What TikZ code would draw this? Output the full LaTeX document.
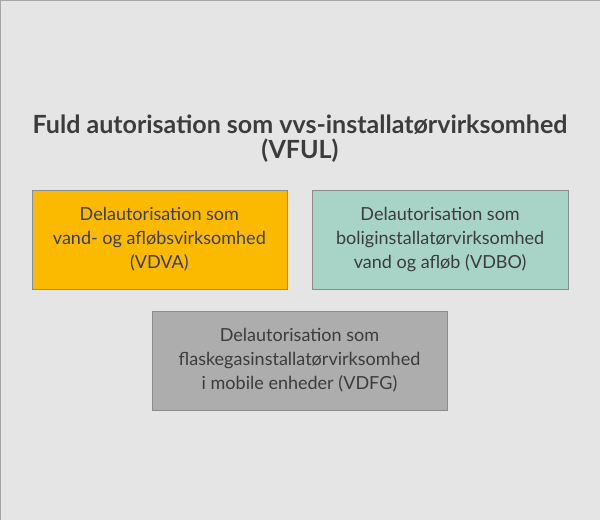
\documentclass[tikz,border=0pt]{standalone}
\usepackage{fontspec}
\setmainfont{Lato}
\usetikzlibrary{positioning}
\definecolor{bggrey}{HTML}{E5E5E5}
\definecolor{vdva}{HTML}{FBBA00}
\definecolor{vdbo}{HTML}{A8D4C8}
\definecolor{vdfg}{HTML}{ADADAD}
\definecolor{txt}{HTML}{3C3C3C}
\begin{document}
\begin{tikzpicture}[x=1pt,y=-1pt]
\tikzstyle{part}=[draw=black!45,minimum width=255pt,minimum height=99pt,align=center,font=\fontsize{18}{24}\selectfont,text=txt,inner sep=2pt]
\draw[fill=bggrey,draw=black!35] (0.5,0.5) rectangle (599.5,519.5);
\node[font=\bfseries\fontsize{25}{25}\selectfont,text=txt,align=center] (vful) at (300,139)
  {Fuld autorisation som vvs-installatørvirksomhed\\(VFUL)};
\node[part,fill=vdva] (a) at (159.5,239.5) {Delautorisation som\\vand- og afløbsvirksomhed\\(VDVA)};
\node[part,fill=vdbo] (b) at (440,239.5) {Delautorisation som\\boliginstallatørvirksomhed\\vand og afløb (VDBO)};
\node[part,fill=vdfg,minimum width=295pt] (c) at (299.5,360.5) {Delautorisation som\\flaskegasinstallatørvirksomhed\\i mobile enheder (VDFG)};
\end{tikzpicture}
\end{document}
